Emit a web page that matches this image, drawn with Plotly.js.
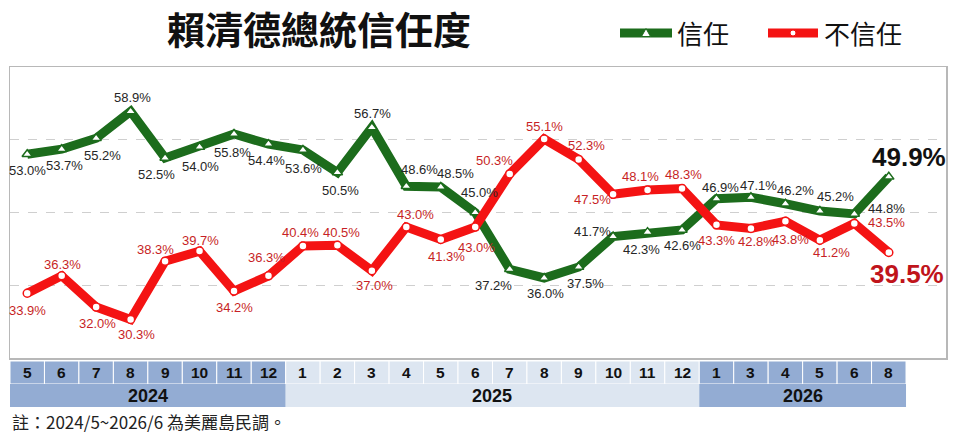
<!DOCTYPE html>
<html>
<head>
<meta charset="utf-8">
<script src="https://cdn.plot.ly/plotly-3.0.1.min.js"></script>
<style>
  body { margin: 0; background: #fff; }
  #chart { width: 956px; height: 440px; }
</style>
</head>
<body>
<div id="chart"></div>
<script>
// survey months and the year each one belongs to
var months = ["5", "6", "7", "8", "9", "10", "11", "12",
              "1", "2", "3", "4", "5", "6", "7", "8", "9", "10", "11", "12",
              "1", "3", "4", "5", "6", "8"];
var years = ["2024", "2024", "2024", "2024", "2024", "2024", "2024", "2024",
             "2025", "2025", "2025", "2025", "2025", "2025", "2025", "2025",
             "2025", "2025", "2025", "2025",
             "2026", "2026", "2026", "2026", "2026", "2026"];

// 信任 / 不信任 (%)
var trust = [53.0, 53.7, 55.2, 58.9, 52.5, 54.0, 55.8, 54.4, 53.6, 50.5, 56.7, 48.6, 48.5,
             45.0, 37.2, 36.0, 37.5, 41.7, 42.3, 42.6, 46.9, 47.1, 46.2, 45.2, 44.8, 49.9];
var distrust = [33.9, 36.3, 32.0, 30.3, 38.3, 39.7, 34.2, 36.3, 40.4, 40.5, 37.0, 43.0, 41.3,
                43.0, 50.3, 55.1, 52.3, 47.5, 48.1, 48.3, 43.3, 42.8, 43.8, 41.2, 43.5, 39.5];

// label offsets in pixels (dx right, dy down) so the labels sit like the original
var trustDx = [0, 3, 6, 2, -9, 1, -2, -2, 1, 3, 1, 13, 15, 4, -16, 1, 7, -21, -6, 0, 4, 8, 10, 16, 32, 20];
var trustDy = [16, 16, 17, -14, 17, 19, 19, 16, 19, 18, -14, -17, -14, -20, 16, 16, 16, -5, 17, 16, -11, -12, -13, -15, -5, -20];
var distrustDx = [0, 1, 1, 6, -10, 1, 0, -2, -2, 4, 3, 9, 6, 1, -15, 0, 8, -21, -7, 1, 0, 6, 5, 12, 32, 18];
var distrustDy = [17, -11, 16, 15, -12, -11, 16, -18, -13, -13, 15, -13, 17, 20, -13, -13, -14, 5, -13, -14, 16, 13, 18, 12, -1, 21];

var GREEN = "#1c6c1c";
var RED = "#f41313";
var DARK_CELL = "#93acd3";
var LIGHT_CELL = "#dde6f1";

// pixel -> paper helpers (plot area is x 10..946, y 67..358)
function px(x) { return (x - 10) / 936; }
function py(y) { return (358 - y) / 291; }

var idx = [];
for (var i = 0; i < months.length; i++) idx.push(i);

var traces = [
  {
    x: idx, y: trust, type: "scatter", mode: "lines+markers", name: "信任",
    line: { color: GREEN, width: 9 },
    marker: { symbol: "triangle-up", size: 9, color: "#fff", line: { color: GREEN, width: 1.5 } },
    cliponaxis: false, hoverinfo: "skip"
  },
  {
    x: idx, y: distrust, type: "scatter", mode: "lines+markers", name: "不信任",
    line: { color: RED, width: 9 },
    marker: { symbol: "circle", size: 8, color: "#fff", line: { color: RED, width: 1.5 } },
    cliponaxis: false, hoverinfo: "skip"
  }
];

var annotations = [];
var shapes = [];

// value labels
function addLabels(values, dx, dy, color, bigColor) {
  var last = values.length - 1;
  for (var i = 0; i < values.length; i++) {
    var big = (i === last);
    annotations.push({
      x: i, y: values[i], xref: "x", yref: "y",
      text: values[i].toFixed(1) + "%", showarrow: false,
      xshift: dx[i], yshift: -dy[i],
      font: {
        family: "Liberation Sans, Arial, sans-serif",
        size: big ? 26 : 13,
        color: big ? bigColor : color,
        weight: big ? "bold" : "normal"
      }
    });
  }
}
addLabels(trust, trustDx, trustDy, "#262626", "#111111");
addLabels(distrust, distrustDx, distrustDy, "#c71f26", "#c0141b");

// month row + year row under the plot
var monthTop = py(361), monthBot = py(384), yearBot = py(407);
function cellColor(y) { return (y === "2025") ? LIGHT_CELL : DARK_CELL; }

for (var i = 0; i < months.length; i++) {
  shapes.push({
    type: "rect", xref: "x", yref: "paper",
    x0: i - 0.5, x1: i + 0.5, y0: monthBot, y1: monthTop,
    fillcolor: cellColor(years[i]), line: { color: "#ffffff", width: 1 }, layer: "below"
  });
  annotations.push({
    x: i, y: (monthTop + monthBot) / 2, xref: "x", yref: "paper",
    text: months[i], showarrow: false, yanchor: "middle",
    font: { family: "Liberation Sans, Arial, sans-serif", size: 15.5, color: "#111", weight: "bold" }
  });
}

// group consecutive months by year
var start = 0;
for (var i = 1; i <= years.length; i++) {
  if (i === years.length || years[i] !== years[start]) {
    shapes.push({
      type: "rect", xref: "x", yref: "paper",
      x0: start - 0.5, x1: i - 0.5, y0: yearBot, y1: monthBot,
      fillcolor: cellColor(years[start]), line: { width: 0 }, layer: "below"
    });
    annotations.push({
      x: (start + i - 1) / 2, y: (monthBot + yearBot) / 2, xref: "x", yref: "paper",
      text: years[start], showarrow: false, yanchor: "middle",
      font: { family: "Liberation Sans, Arial, sans-serif", size: 18, color: "#111", weight: "bold" }
    });
    start = i;
  }
}

// hand-made legend (longer line than plotly's own)
var legY = py(33);
shapes.push({ type: "line", xref: "paper", yref: "paper", x0: px(620), x1: px(672), y0: legY, y1: legY,
              line: { color: GREEN, width: 9 } });
shapes.push({ type: "path", xref: "paper", yref: "paper", xsizemode: "pixel", ysizemode: "pixel",
              xanchor: px(646), yanchor: legY, path: "M -4.5 -3.5 L 4.5 -3.5 L 0 4.5 Z",
              fillcolor: "#fff", line: { color: GREEN, width: 1 } });
shapes.push({ type: "line", xref: "paper", yref: "paper", x0: px(768), x1: px(818), y0: legY, y1: legY,
              line: { color: RED, width: 9 } });
shapes.push({ type: "circle", xref: "paper", yref: "paper", xsizemode: "pixel", ysizemode: "pixel",
              xanchor: px(793), yanchor: legY, x0: -3, x1: 3, y0: -3, y1: 3,
              fillcolor: "#fff", line: { color: RED, width: 1 } });
annotations.push({ x: px(675), y: legY, xref: "paper", yref: "paper", xanchor: "left", yanchor: "middle",
                   text: "信任", showarrow: false,
                   font: { family: "Noto Sans CJK TC", size: 26, color: "#111" } });
annotations.push({ x: px(822), y: legY, xref: "paper", yref: "paper", xanchor: "left", yanchor: "middle",
                   text: "不信任", showarrow: false,
                   font: { family: "Noto Sans CJK TC", size: 26, color: "#111" } });

// footnote
annotations.push({ x: 0, y: py(421), xref: "paper", yref: "paper", xanchor: "left", yanchor: "middle",
                   text: "註：2024/5~2026/6 為美麗島民調。", showarrow: false,
                   font: { family: "Noto Sans CJK TC", size: 17, color: "#222" } });

var layout = {
  width: 956, height: 440,
  margin: { l: 10, r: 10, t: 67, b: 82 },
  paper_bgcolor: "#fff", plot_bgcolor: "#fff",
  showlegend: false,
  title: {
    text: "賴清德總統信任度", xref: "paper", x: px(319), xanchor: "center",
    y: 1 - 31 / 440, yanchor: "middle",
    font: { family: "Noto Sans CJK TC", size: 38, color: "#111", weight: "bold" }
  },
  xaxis: {
    range: [-0.5, 26.66], showticklabels: false, showgrid: false, zeroline: false,
    showline: true, mirror: true, linecolor: "#b8b8b8", linewidth: 1.5, fixedrange: true
  },
  yaxis: {
    range: [25, 65], tickvals: [35, 45, 55], showticklabels: false,
    showgrid: true, gridcolor: "#cfcfcf", griddash: "dash", gridwidth: 1, zeroline: false,
    showline: true, mirror: true, linecolor: "#b8b8b8", linewidth: 1.5, fixedrange: true
  },
  shapes: shapes,
  annotations: annotations
};

Plotly.newPlot("chart", traces, layout, { displayModeBar: false, staticPlot: true });
</script>
</body>
</html>
